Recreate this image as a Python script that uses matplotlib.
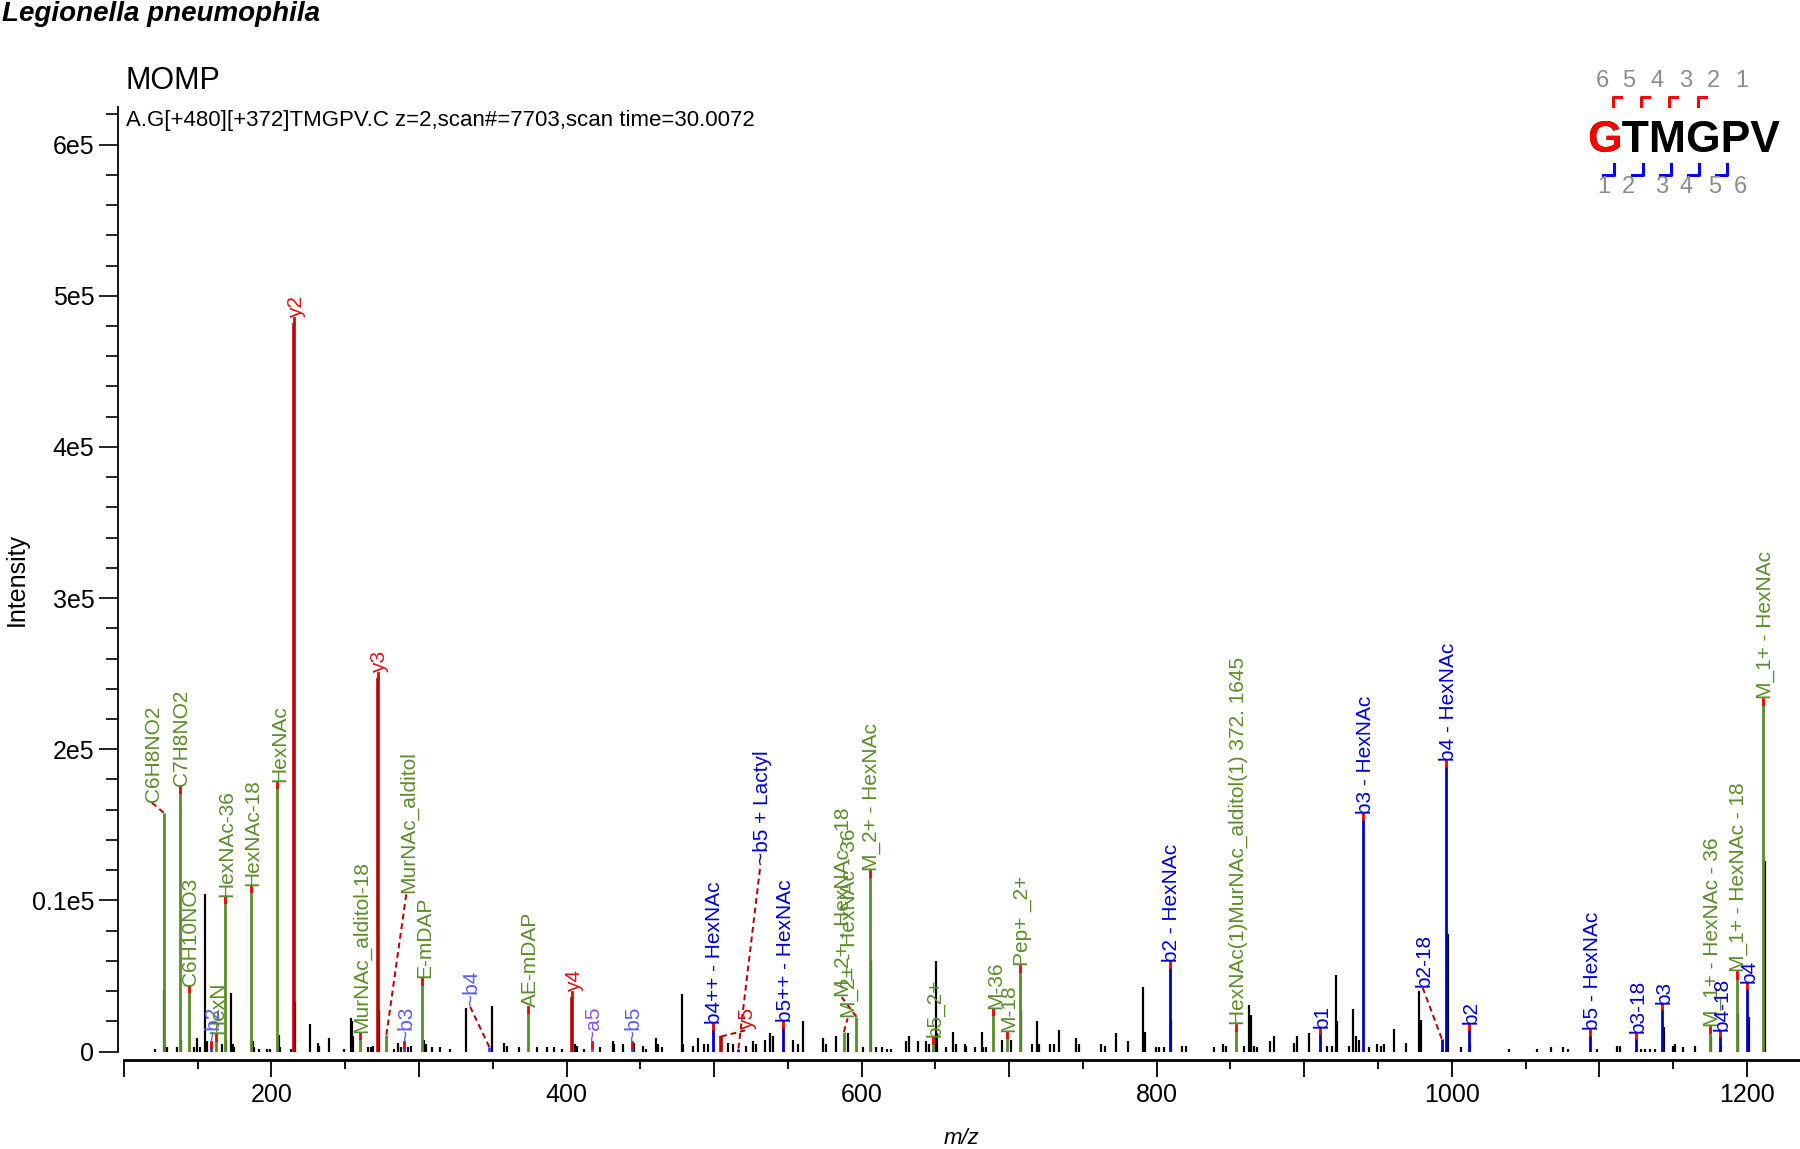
import matplotlib
matplotlib.use("Agg")
import matplotlib.pyplot as plt
from matplotlib.ticker import MultipleLocator, FuncFormatter

plt.rcParams['font.family'] = ['Liberation Sans', 'DejaVu Sans']

# unassigned (black) peaks
raw_mz = [121.4, 127.2, 128.0, 129.5, 136.0, 139.0, 147.3, 149.5, 151.8, 154.7, 156.3, 166.5,
          169.4, 172.8, 173.7, 174.8, 187.2, 188.5, 191.3, 196.9, 199.0, 205.0, 206.0, 213.4,
          216.2, 226.4, 231.4, 232.5, 238.9, 249.5, 253.8, 254.5, 255.6, 265.3, 267.5, 269.0,
          273.0, 283.3, 285.6, 287.8, 292.8, 294.8, 303.3, 305.0, 308.5, 314.0, 320.9, 331.8,
          349.8, 357.7, 359.5, 367.5, 380.0, 386.8, 391.8, 397.0, 405.5, 406.8, 411.8, 423.0,
          431.2, 432.3, 438.0, 446.0, 451.6, 453.8, 460.6, 461.7, 465.0, 478.0, 479.1, 485.5,
          488.9, 493.4, 495.6, 509.3, 512.7, 521.7, 526.2, 528.5, 534.2, 537.6, 539.8, 553.4,
          556.8, 560.6, 573.8, 576.0, 582.8, 590.7, 600.9, 606.5, 609.8, 614.0, 617.0, 620.0,
          630.2, 632.0, 638.1, 643.8, 645.6, 650.2, 651.1, 657.4, 662.0, 663.8, 669.9, 671.0,
          676.7, 681.3, 682.5, 684.6, 694.9, 701.0, 708.1, 715.3, 719.2, 720.5, 727.4, 730.2,
          733.5, 745.5, 747.1, 762.3, 765.2, 772.5, 780.5, 791.0, 791.9, 799.3, 801.6, 805.0,
          810.0, 817.4, 819.6, 838.9, 845.2, 846.8, 859.2, 862.6, 863.7, 866.0, 868.3, 876.6,
          879.5, 893.1, 895.4, 903.3, 915.7, 919.1, 921.4, 922.5, 930.4, 933.3, 934.9, 937.1,
          944.0, 949.6, 951.8, 954.0, 960.5, 968.8, 978.0, 979.1, 997.5, 1006.0, 1012.5, 1038.5,
          1057.6, 1067.0, 1075.7, 1079.0, 1098.6, 1112.0, 1114.3, 1128.5, 1131.0, 1134.0, 1138.0,
          1143.8, 1150.1, 1151.2, 1157.0, 1164.9, 1175.7, 1182.5, 1194.0, 1201.1, 1212.0]
raw_int = [2000, 41000, 5000, 3000, 3000, 8000, 3000, 9000, 3000, 104000, 7000, 5000,
           8000, 39000, 5000, 3000, 7000, 3000, 2000, 2000, 2000, 11000, 3000, 2000,
           33000, 18000, 6000, 4000, 9000, 2000, 22000, 20000, 10000, 3000, 3000, 4000,
           27000, 2000, 6000, 3000, 3000, 4000, 8000, 5000, 3000, 3000, 2000, 29000,
           30000, 6000, 4000, 3000, 3000, 3000, 3000, 2000, 5000, 4000, 2000, 3000,
           7000, 5000, 5000, 6000, 4000, 2000, 9000, 5000, 3000, 38000, 5000, 4000,
           9000, 5000, 5000, 6000, 5000, 4000, 7000, 5000, 8000, 12000, 10000, 8000,
           5000, 20000, 9000, 5000, 10000, 12000, 3000, 60000, 3000, 3000, 2000, 2000,
           7000, 10000, 7000, 7000, 5000, 60000, 12000, 3000, 13000, 5000, 5000, 4000,
           3000, 13000, 3000, 3000, 8000, 8000, 27000, 5000, 20000, 5000, 5000, 5000,
           14000, 9000, 5000, 5000, 4000, 12000, 7000, 43000, 13000, 3000, 3000, 3000,
           21000, 4000, 4000, 3000, 5000, 4000, 4000, 31000, 24000, 4000, 3000, 7000,
           10000, 6000, 10000, 12000, 4000, 4000, 51000, 20000, 4000, 28000, 10000, 8000,
           3000, 5000, 4000, 5000, 15000, 6000, 40000, 21000, 78000, 3000, 5000, 2000,
           2000, 3000, 3000, 2000, 2000, 4000, 4000, 2000, 2000, 2000, 2000,
           16000, 4000, 5000, 3000, 4000, 10000, 3000, 25000, 23000, 126000]

# assigned peaks: g = glycan/precursor, b = b ion, y = y ion, t = ~b ion, a = ~a ion
ion_mz = [127.0, 137.8, 143.9, 159.0, 162.2, 168.3, 186.1, 203.9, 215.2, 259.8, 272.0, 277.9,
          289.8, 302.2, 347.7, 373.9, 404.0, 417.0, 444.1, 499.1, 504.8, 516.5, 547.0, 588.0,
          596.5, 605.5, 648.4, 689.2, 698.3, 707.4, 808.8, 853.6, 910.7, 939.7, 993.2, 996.0,
          1011.4, 1093.9, 1124.7, 1142.6, 1175.0, 1182.0, 1193.0, 1200.0, 1210.9]
ion_int = [158000, 172000, 40000, 3000, 8000, 99000, 106000, 175000, 482000, 9000, 247000, 11000,
           3000, 45000, 3000, 26000, 36000, 3000, 3000, 15000, 10000, 2000, 16000, 13000,
           23000, 116000, 6000, 25000, 9500, 53000, 56000, 14000, 12000, 154000, 8500, 189000,
           15000, 11000, 9000, 28000, 13000, 10000, 49000, 42000, 230000]
ion_label = ['C6H8NO2', 'C7H8NO2', 'C6H10NO3', '~b2', 'HexN', 'HexNAc-36', 'HexNAc-18', 'HexNAc',
             'y2', 'MurNAc_alditol-18', 'y3', 'MurNAc_alditol', '~b3', 'E-mDAP', '~b4', 'AE-mDAP',
             'y4', '~a5', '~b5', 'b4++ - HexNAc', 'y5', '~b5 + Lactyl', 'b5++ - HexNAc',
             'M_2+ - HexNAc - 36', 'M_2+ - HexNAc - 18', 'M_2+ - HexNAc', 'b5_2+', 'M-36', 'M-18',
             'Pep+ _2+', 'b2 - HexNAc', 'HexNAc(1)MurNAc_alditol(1) 372. 1645', 'b1',
             'b3 - HexNAc', 'b2-18', 'b4 - HexNAc', 'b2', 'b5 - HexNAc', 'b3-18', 'b3',
             'M_1+ - HexNAc - 36', 'b4-18', 'M_1+ - HexNAc - 18', 'b4', 'M_1+ - HexNAc']
ion_type = ['g', 'g', 'g', 't', 'g', 'g', 'g', 'g', 'y', 'g', 'y', 'g', 't', 'g', 't', 'g',
            'y', 'a', 't', 'b', 'y', 'b', 'b', 'g', 'g', 'g', 'g', 'g', 'g', 'g', 'b', 'g', 'b',
            'b', 'b', 'b', 'b', 'b', 'b', 'b', 'g', 'b', 'g', 'b', 'g']

# labels pushed away from their peak: label -> (m/z, intensity)
moved_labels = {
    'C6H8NO2': (118.5, 165000),
    'MurNAc_alditol': (291.5, 105000),
    '~b4': (334.5, 30000),
    'y5': (521.0, 14000),
    '~b5 + Lactyl': (531.5, 124000),
    'M_2+ - HexNAc - 36': (590.5, 22000),
    'M_2+ - HexNAc - 18': (586.5, 36000),
    'b2-18': (980.0, 43000),
}

ytick_vals = [0, 100000, 200000, 300000, 400000, 500000, 600000]
ytick_text = ['0', '0.1e5', '2e5', '3e5', '4e5', '5e5', '6e5']

peptide = 'GTMGPV'
top_nums = ['6', '5', '4', '3', '2', '1']
bottom_nums = ['1', '2', '3', '4', '5', '6']

line_col = {'g': '#5b8c2a', 'b': '#0000cc', 'y': '#c00000', 't': '#3c3cff', 'a': '#7a4cff'}
text_col = {'g': '#5b8c2a', 'b': '#0000cc', 'y': '#dd1111', 't': '#5b5bff', 'a': '#8855ff'}

W, H = 1800, 1149
fig = plt.figure(figsize=(W / 100, H / 100), dpi=100)
ax = fig.add_axes([118 / W, 1 - 1051.6 / H, 1 - 118 / W, (1051.6 - 106.8) / H])

ax.vlines(raw_mz, 0, raw_int, color='black', lw=1.6, zorder=2)
for mz, h, lab, kind in zip(ion_mz, ion_int, ion_label, ion_type):
    lw = 2.6 if kind == 'y' else 2.0
    ax.vlines(mz, 0, h, color=line_col[kind], lw=lw, zorder=3)
    if lab in moved_labels:
        lx, ly = moved_labels[lab]
        ax.plot([mz, lx], [h, ly], ls=(0, (3, 2)), color='#b00000', lw=1.4, zorder=4)
    else:
        lx, ly = mz, h + 3500
        ax.plot([mz, mz], [h, ly], color='#ee0000', lw=2, zorder=4)
    ax.text(lx + 1.5, ly, lab, rotation=90, ha='center', va='bottom',
            color=text_col[kind], fontsize=15, zorder=5)

ax.set_xlim(96, 1236)
ax.set_ylim(0, 625000)
ax.spines['top'].set_visible(False)
ax.spines['right'].set_visible(False)
ax.spines['bottom'].set_position(('outward', 6))
ax.spines['bottom'].set_bounds(100, 1236)
ax.spines['bottom'].set_linewidth(2)
ax.spines['left'].set_linewidth(1.3)

ax.set_yticks(ytick_vals, ytick_text)
ax.yaxis.set_minor_locator(MultipleLocator(20000))
ax.xaxis.set_major_locator(MultipleLocator(100))
ax.xaxis.set_minor_locator(MultipleLocator(50))
ax.xaxis.set_major_formatter(FuncFormatter(lambda v, p: '%d' % v if v % 200 == 0 else ''))
ax.tick_params(axis='y', which='major', length=14, width=1.2, labelsize=18, pad=3)
ax.tick_params(axis='y', which='minor', length=8.5, width=1.2)
ax.tick_params(axis='x', which='major', length=12.5, width=1.3, labelsize=18, pad=4)
ax.tick_params(axis='x', which='minor', length=6.5, width=1.3)

# overlay in pixel coordinates for the header and sequence map
ov = fig.add_axes([0, 0, 1, 1])
ov.set_xlim(0, W)
ov.set_ylim(H, 0)
ov.axis('off')

ov.text(2, 21, 'Legionella pneumophila', fontsize=20, fontweight='bold', fontstyle='italic',
        va='baseline', ha='left')
ov.text(126, 89, 'MOMP', fontsize=22, va='baseline', ha='left')
ov.text(126, 126, 'A.G[+480][+372]TMGPV.C z=2,scan#=7703,scan time=30.0072', fontsize=16,
        va='baseline', ha='left')
ov.text(17, 580, 'Intensity', fontsize=18, rotation=90, ha='center', va='center')
ov.text(961, 1139, 'm/z', fontsize=16, fontstyle='italic', ha='center', va='center')

# sequence with fragment brackets
ov.text(1587, 152, peptide, fontsize=32, fontweight='bold', color='black', va='baseline', ha='left')
ov.text(1587, 152, peptide[0], fontsize=32, fontweight='bold', color='#ff0000', va='baseline', ha='left')
for x, s in zip([1602, 1629, 1657, 1686, 1713, 1742], top_nums):
    ov.text(x, 87, s, fontsize=17, color='#8c8c8c', ha='center', va='baseline')
for x, s in zip([1604, 1628, 1662, 1686, 1715, 1740], bottom_nums):
    ov.text(x, 193, s, fontsize=17, color='#8c8c8c', ha='center', va='baseline')
for x in [1613, 1641, 1669, 1698]:
    ov.plot([x, x, x + 8], [106, 97, 97], color='#ff0000', lw=2.2)
for x in [1614, 1643, 1671, 1699, 1727]:
    ov.plot([x, x, x - 11], [164, 175, 175], color='#0000ff', lw=2.2)

fig.savefig('out.png', dpi=100)
